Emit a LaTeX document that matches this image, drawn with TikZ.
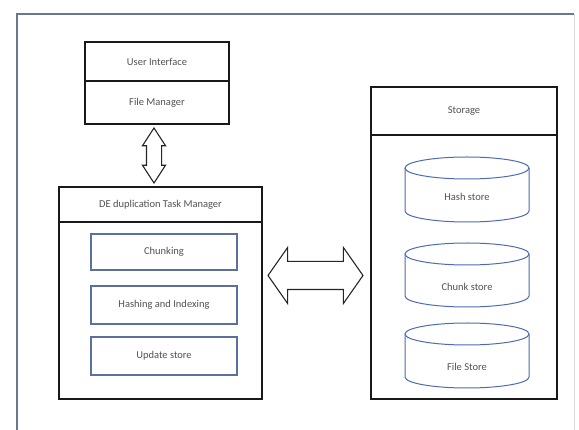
\documentclass[tikz,border=0pt]{standalone}
\usepackage{fontspec}
\setmainfont{Carlito}
\usepackage{tikz}
\usetikzlibrary{shapes.arrows}

\definecolor{framegray}{RGB}{105,120,138}
\definecolor{boxblue}{RGB}{92,112,160}
\definecolor{cylblue}{RGB}{78,108,178}

\tikzset{
  blackbox/.style={draw=black!90, line width=1.4pt, fill=white, inner sep=0pt},
  stepbox/.style={draw=boxblue, line width=1.1pt, fill=white, inner sep=0pt, minimum width=146pt},
  hollowarrow/.style={double arrow, draw=black!85, line width=1.1pt, fill=white, inner xsep=0pt}
}

\begin{document}
\begin{tikzpicture}[x=1pt, y=-1pt, every node/.style={font=\fontsize{10.5}{12}\selectfont, text=black!68}]
  \useasboundingbox (0,0) rectangle (579,430);
  \clip (0,0) rectangle (579,430);
  % outer frame
  \draw[framegray, line width=1.3pt] (17,440) -- (17,14) -- (574,14);
  \draw[framegray!25, line width=0.8pt] (574,14) -- (574,440);
  % client side
  \node[blackbox, minimum width=144pt, minimum height=39pt] (ui) at (157,61.5) {User Interface};
  \node[blackbox, minimum width=144pt, minimum height=43pt] (fm) at (157,102.5) {File Manager};
  % dedup manager
  \node[blackbox, minimum width=203pt, minimum height=35pt] (dtitle) at (160.5,204.5) {DE duplication Task Manager};
  \node[blackbox, minimum width=203pt, minimum height=177pt] (dbody) at (160.5,310.5) {};
  \node[stepbox, minimum height=36pt] (chunk) at (164,252) {Chunking};
  \node[stepbox, minimum height=38pt] (hashidx) at (164,305) {Hashing and Indexing};
  \node[stepbox, minimum height=38pt] (update) at (164,356) {Update store};
  % storage
  \node[blackbox, minimum width=186pt, minimum height=48pt] (stitle) at (464,111) {Storage};
  \node[blackbox, minimum width=186pt, minimum height=264pt] (sbody) at (464,267) {};
  % stores
  \draw[cylblue, line width=1pt, fill=white] (405,168) -- (405,211) arc[start angle=180, end angle=0, x radius=62, y radius=11] -- (529,168);
  \draw[cylblue, line width=1pt] (467,168) ellipse[x radius=62, y radius=11];
  \node (hstore) at (467,197) {Hash store};
  \draw[cylblue, line width=1pt, fill=white] (405,254) -- (405,296) arc[start angle=180, end angle=0, x radius=62, y radius=11] -- (529,254);
  \draw[cylblue, line width=1pt] (467,254) ellipse[x radius=62, y radius=11];
  \node (cstore) at (467,287) {Chunk store};
  \draw[cylblue, line width=1pt, fill=white] (405,334) -- (405,377) arc[start angle=180, end angle=0, x radius=62, y radius=11] -- (529,334);
  \draw[cylblue, line width=1pt] (467,334) ellipse[x radius=62, y radius=11];
  \node (fstore) at (467,367) {File Store};
  % block arrows
  \node[hollowarrow, rotate=90, inner ysep=7pt, minimum height=55pt, double arrow head extend=4pt, double arrow tip angle=66] (updown) at (154,155.5) {};
  \node[hollowarrow, inner ysep=13.5pt, minimum height=95pt, double arrow head extend=14pt, double arrow tip angle=110] (leftright) at (315.5,275.5) {};
\end{tikzpicture}
\end{document}
